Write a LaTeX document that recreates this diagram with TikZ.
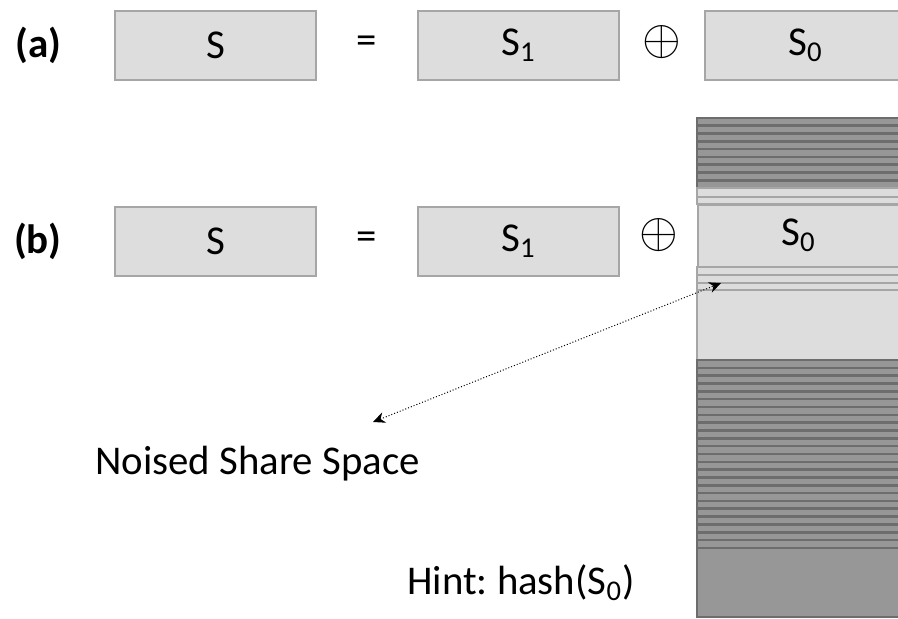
\documentclass[tikz,border=0pt]{standalone}
\usepackage{fontspec}
\setmainfont{Carlito}
\usetikzlibrary{arrows.meta,positioning,calc}
\definecolor{shareFill}{HTML}{DDDDDD}
\definecolor{shareLine}{HTML}{A6A6A6}
\definecolor{noiseFill}{HTML}{979797}
\definecolor{noiseLine}{HTML}{6D6D6D}
\frenchspacing

\begin{document}
\begin{tikzpicture}[x=0.5pt, y=-0.5pt,
  share/.style={draw=shareLine, fill=shareFill, line width=1pt, minimum width=100.5pt,
                minimum height=34.5pt, inner sep=0pt, font=\fontsize{20.5}{24}\selectfont},
  lightband/.style={draw=shareLine, fill=shareFill, line width=1pt},
  darkband/.style={draw=noiseLine, fill=noiseFill, line width=1.3pt},
  txt/.style={inner sep=0pt, font=\fontsize{20.4}{24}\selectfont},
  tag/.style={inner sep=0pt, font=\fontsize{20.5}{24}\selectfont\bfseries},
  xor/.style={inner sep=0pt, font=\fontsize{27}{30}\selectfont},
  >={Stealth[length=6pt,width=5.5pt]}, node distance=50pt]
  \useasboundingbox (0,0) rectangle (898,618);
  \clip (0,0) rectangle (898,618);

  % (a) plain split
  \node[share] (sA) at (215.5,45) {S};
  \node[share, right=50pt of sA] (s1A) {S\textsubscript{1}};
  \node[share, right=42pt of s1A] (s0A) {S\textsubscript{0}};
  \node[tag, left=26pt of sA] (labA) {(a)};
  \node[txt] (eqA) at ($(sA.east)!0.5!(s1A.west)$) {=};
  \node[xor] (xorA) at ($(s1A.east)!0.5!(s0A.west)+(0,-3)$) {$\oplus$};

  % noise column behind S0
  \foreach \i in {0,...,8}
    \draw[darkband] (697,{118+\i*7.78}) rectangle (900,{118+(\i+1)*7.78});
  \foreach \ya/\yb in {188/197,197/204,267/275,275/283,283/290,290/360}
    \draw[lightband] (697,\ya) rectangle (900,\yb);
  \foreach \i in {0,...,23}
    \draw[darkband] (697,{360+\i*7.83}) rectangle (900,{360+(\i+1)*7.83});
  \draw[darkband] (697,548) rectangle (900,617);

  % (b) noised split
  \node[share, below=62.5pt of sA] (sB) {S};
  \node[share, right=50pt of sB] (s1B) {S\textsubscript{1}};
  \node[share, minimum height=31pt] (s0B) at (798.5,235.5) {S\textsubscript{0}};
  \node[tag, left=26pt of sB] (labB) {(b)};
  \node[txt] (eqB) at ($(sB.east)!0.5!(s1B.west)$) {=};
  \node[xor] (xorB) at ($(s1B.east)!0.5!(s0B.west)+(0,-3)$) {$\oplus$};

  \node[txt, anchor=base west] (noised) at (95,474) {Noised Share Space};
  \node[txt, anchor=base west] (hint) at (407,594) {Hint: hash(S\textsubscript{0})};
  \coordinate (noisedTip) at (373,422);
  \coordinate (bandTip) at (721,283);
  \draw[<->, densely dotted, line width=0.5pt] (noisedTip) -- (bandTip);
\end{tikzpicture}
\end{document}
